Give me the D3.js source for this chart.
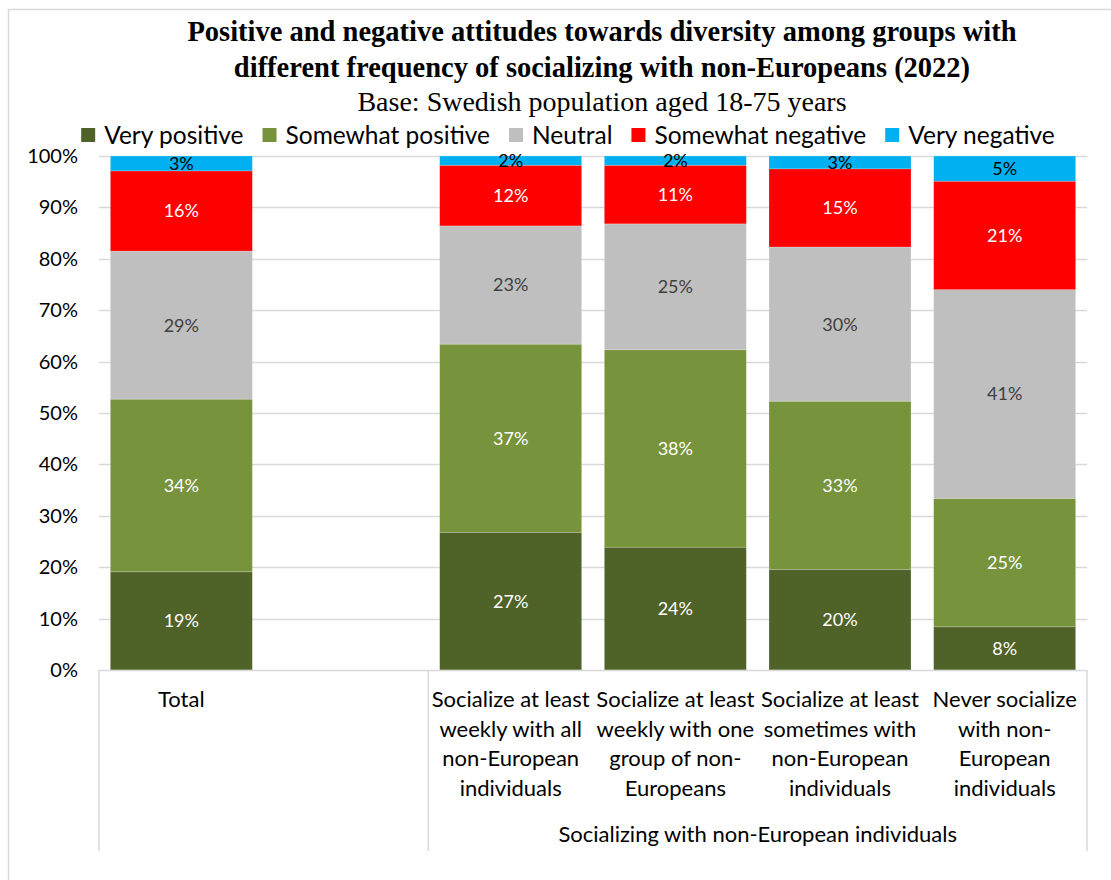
<!DOCTYPE html>
<html>
<head>
<meta charset="utf-8">
<script src="https://cdn.jsdelivr.net/npm/d3@7"></script>
<style>
  html, body { margin: 0; padding: 0; background: #fff; }
  svg { display: block; }
</style>
</head>
<body>
<svg id="chart" width="1111" height="880"></svg>
<script>
// Survey shares (fractions of respondents) per group
const categories = [
  "Total",
  "",
  "Socialize at least|weekly with all|non-European|individuals",
  "Socialize at least|weekly with one|group of non-|Europeans",
  "Socialize at least|sometimes with|non-European|individuals",
  "Never socialize|with non-|European|individuals"
];
const seriesNames = ["Very positive", "Somewhat positive", "Neutral", "Somewhat negative", "Very negative"];
const veryPositive     = [0.191, null, 0.268, 0.239, 0.196, 0.084];
const somewhatPositive = [0.336, null, 0.366, 0.384, 0.327, 0.250];
const neutral          = [0.288, null, 0.230, 0.245, 0.300, 0.406];
const somewhatNegative = [0.156, null, 0.118, 0.114, 0.152, 0.211];
const veryNegative     = [0.029, null, 0.018, 0.018, 0.025, 0.049];
const yTicks = [0, 0.1, 0.2, 0.3, 0.4, 0.5, 0.6, 0.7, 0.8, 0.9, 1.0];
const groupLabel = "Socializing with non-European individuals";

const colors = ["#4F6228", "#77933C", "#BFBFBF", "#FF0000", "#00B0F0"];
const labelColors = ["#ffffff", "#ffffff", "#404040", "#ffffff", "#000000"];
const seriesValues = [veryPositive, somewhatPositive, neutral, somewhatNegative, veryNegative];

const sans = "Lato, 'Open Sans', sans-serif";
const serif = "'Liberation Serif', 'DejaVu Serif', serif";

const svg = d3.select("#chart");

// outer chart frame
svg.append("rect")
  .attr("x", 8.5).attr("y", 9.5).attr("width", 1120).attr("height", 890)
  .attr("fill", "#fff").attr("stroke", "#D9D9D9").attr("stroke-width", 1.5);

const plot = { left: 99, right: 1087, top: 156, bottom: 670 };

const x = d3.scaleBand()
  .domain(d3.range(categories.length))
  .range([plot.left, plot.right])
  .paddingInner(0.1377)
  .paddingOuter(0.0689);

const y = d3.scaleLinear().domain([0, 1]).range([plot.bottom, plot.top]);

// gridlines
svg.append("g")
  .selectAll("line")
  .data(yTicks.slice(1))
  .join("line")
  .attr("x1", plot.left).attr("x2", plot.right)
  .attr("y1", d => Math.round(y(d)) + 0.5).attr("y2", d => Math.round(y(d)) + 0.5)
  .attr("stroke", "#D9D9D9").attr("stroke-width", 1.5);

// y axis labels
const yAxis = d3.axisLeft(y).tickValues(yTicks).tickFormat(d3.format(".0%")).tickSize(0).tickPadding(21);
const yg = svg.append("g").attr("transform", `translate(${plot.left},0)`).call(yAxis);
yg.select(".domain").remove();
yg.selectAll("text")
  .attr("font-family", sans).attr("font-size", 20).attr("fill", "#000");

// stacked rows
const rows = categories.map((c, i) => {
  const r = { idx: i };
  seriesNames.forEach((s, k) => { r[s] = seriesValues[k][i]; });
  return r;
}).filter(r => r[seriesNames[0]] != null);

const stack = d3.stack().keys(seriesNames);
const stacked = stack(rows);

const layers = svg.append("g")
  .selectAll("g")
  .data(stacked)
  .join("g")
  .attr("fill", (d, k) => colors[k]);

layers.selectAll("rect")
  .data(d => d)
  .join("rect")
  .attr("x", d => x(d.data.idx))
  .attr("width", x.bandwidth())
  .attr("y", d => y(d[1]))
  .attr("height", d => y(d[0]) - y(d[1]))
  .attr("stroke", "#ffffff").attr("stroke-opacity", 0.35).attr("stroke-width", 0.6);

// data labels
const labelFmt = d3.format(".0%");
stacked.forEach((layer, k) => {
  svg.append("g")
    .selectAll("text")
    .data(layer)
    .join("text")
    .attr("x", d => x(d.data.idx) + x.bandwidth() / 2)
    .attr("y", d => (y(d[0]) + y(d[1])) / 2)
    .attr("dy", "0.36em")
    .attr("text-anchor", "middle")
    .attr("font-family", sans).attr("font-size", 18)
    .attr("fill", labelColors[k])
    .text(d => labelFmt(d[1] - d[0]));
});

// category axis: baseline and separators
const axisG = svg.append("g").attr("stroke", "#D9D9D9").attr("stroke-width", 1.5);
axisG.append("line")
  .attr("x1", plot.left).attr("x2", plot.right)
  .attr("y1", plot.bottom + 0.5).attr("y2", plot.bottom + 0.5);
const sepX = [plot.left, x(2) - x.step() * x.paddingInner() / 2, plot.right];
axisG.selectAll(".sep")
  .data(sepX)
  .join("line")
  .attr("x1", d => d).attr("x2", d => d)
  .attr("y1", plot.bottom).attr("y2", 851);

// category labels
const catG = svg.append("g");
categories.forEach((c, i) => {
  if (!c) return;
  const t = catG.append("text")
    .attr("x", x(i) + x.bandwidth() / 2)
    .attr("y", 707)
    .attr("text-anchor", "middle")
    .attr("font-family", sans).attr("font-size", 22).attr("fill", "#000");
  c.split("|").forEach((line, j) => {
    t.append("tspan")
      .attr("x", x(i) + x.bandwidth() / 2)
      .attr("dy", j === 0 ? 0 : 29.6)
      .text(line);
  });
});

svg.append("text")
  .attr("x", (sepX[1] + plot.right) / 2)
  .attr("y", 842)
  .attr("text-anchor", "middle")
  .attr("font-family", sans).attr("font-size", 22).attr("fill", "#000")
  .text(groupLabel);

// title block
const titleLines = [
  "Positive and negative attitudes towards diversity among groups with",
  "different frequency of socializing with non-Europeans (2022)"
];
svg.append("g")
  .selectAll("text")
  .data(titleLines)
  .join("text")
  .attr("x", 602)
  .attr("y", (d, i) => 41 + i * 36)
  .attr("text-anchor", "middle")
  .attr("font-family", serif).attr("font-weight", "bold").attr("font-size", 28.5)
  .attr("fill", "#000")
  .text(d => d);

svg.append("text")
  .attr("x", 602).attr("y", 111)
  .attr("text-anchor", "middle")
  .attr("font-family", serif).attr("font-size", 28).attr("fill", "#000")
  .text("Base: Swedish population aged 18-75 years");

// legend
const legend = svg.append("g");
const items = legend.selectAll("g")
  .data(seriesNames)
  .join("g");
items.append("rect")
  .attr("width", 14).attr("height", 14)
  .attr("y", -7)
  .attr("fill", (d, k) => colors[k]);
items.append("text")
  .attr("x", 23).attr("dy", "0.35em")
  .attr("font-family", sans).attr("font-size", 24.5).attr("fill", "#000")
  .text(d => d);
let lx = 0;
const gap = 19;
items.each(function () {
  const w = this.getBBox().width;
  d3.select(this).attr("transform", `translate(${lx},0)`);
  lx += w + gap;
});
const totalW = lx - gap;
legend.attr("transform", `translate(${(83 + 1053) / 2 - totalW / 2},135)`);
</script>
</body>
</html>
